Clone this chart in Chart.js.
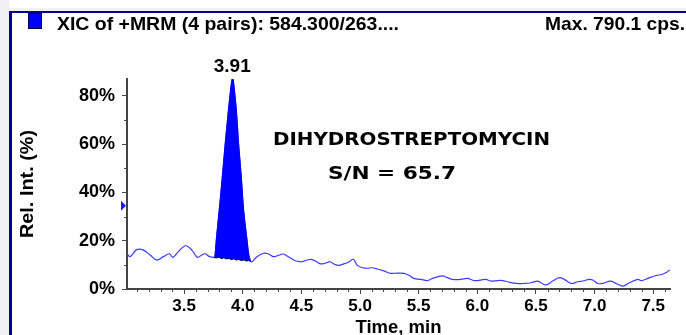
<!DOCTYPE html>
<html>
<head>
<meta charset="utf-8">
<script src="https://cdn.jsdelivr.net/npm/chart.js@4"></script>
<style>
  html, body { margin: 0; padding: 0; background: #ffffff; }
  canvas { display: block; }
</style>
</head>
<body>
<canvas id="c" width="686" height="335"></canvas>
<script>
// ---- data ----
const traceTime = [
  3.013, 3.040, 3.095, 3.150, 3.210, 3.267, 3.323, 3.375, 3.404, 3.451, 3.509, 3.551, 3.586, 3.614, 3.651, 3.680, 3.716, 3.751,
  3.762, 3.775, 3.790, 3.808, 3.831, 3.851, 3.870, 3.887, 3.902, 3.913, 3.922, 3.945, 3.964, 3.987, 4.007, 4.036, 4.050, 4.066,
  4.079, 4.121, 4.178, 4.221, 4.258, 4.292, 4.344, 4.378, 4.435, 4.463, 4.506, 4.549, 4.583, 4.620, 4.663, 4.705, 4.742, 4.776,
  4.819, 4.862, 4.904, 4.942, 4.976, 5.019, 5.062, 5.104, 5.147, 5.204, 5.261, 5.318, 5.375, 5.417, 5.460, 5.517, 5.575, 5.617,
  5.703, 5.746, 5.788, 5.859, 5.916, 5.973, 6.030, 6.073, 6.116, 6.173, 6.216, 6.258, 6.329, 6.400, 6.458, 6.515, 6.543, 6.586,
  6.643, 6.699, 6.742, 6.800, 6.857, 6.899, 6.956, 6.985, 7.028, 7.070, 7.135, 7.184, 7.241, 7.298, 7.370, 7.398, 7.455, 7.512,
  7.584, 7.612, 7.640
];
const traceIntensity = [
  14.6, 13.4, 16.3, 16.2, 14.1, 12.0, 13.4, 14.6, 13.1, 15.5, 17.9, 16.9, 14.8, 13.1, 14.1, 14.6, 13.4, 13.1,
  13.0, 20.5, 28.0, 36.9, 49.3, 60.4, 70.0, 78.3, 84.6, 87.6, 85.3, 74.2, 60.4, 46.6, 32.7, 20.3, 14.5, 11.5,
  11.3, 13.4, 14.8, 14.5, 13.4, 13.7, 14.5, 13.7, 12.0, 11.5, 11.3, 12.0, 12.3, 11.6, 10.4, 10.7, 11.3, 10.4,
  9.8, 10.4, 11.2, 12.3, 9.9, 8.8, 8.6, 8.8, 8.3, 7.5, 6.5, 6.6, 6.5, 5.7, 4.4, 4.0, 3.5, 4.4,
  5.4, 4.7, 4.0, 4.0, 4.4, 3.5, 3.7, 4.0, 3.3, 3.5, 3.5, 3.0, 2.3, 2.3, 2.6, 3.3, 2.6, 1.7,
  3.3, 4.7, 4.0, 2.3, 3.0, 3.3, 4.0, 3.7, 2.3, 2.3, 3.3, 2.3, 1.2, 2.6, 4.0, 3.5, 4.4, 5.4,
  6.2, 6.8, 7.9
];
const peakWindow = [3.762, 4.066];          // integrated region (min)
const baselineIntensity = [13.0, 11.5];     // integration baseline at the window ends (%)
const peakApexTime = 3.91;
const thresholdMarker = 34.5;               // blue marker on the y axis (%)
const xTickValues = [3.5, 4.0, 4.5, 5.0, 5.5, 6.0, 6.5, 7.0, 7.5];
const yTickValues = [0, 20, 40, 60, 80];
const xMinorTicks = [3.1,3.2,3.3,3.4,3.6,3.7,3.8,3.9,4.1,4.2,4.3,4.4,4.6,4.7,4.8,4.9,5.1,5.2,5.3,5.4,5.6,5.7,5.8,5.9,6.1,6.2,6.3,6.4,6.6,6.7,6.8,6.9,7.1,7.2,7.3,7.4,7.6];
const yMinorTicks = [10, 30, 50, 70];
const titleText = 'XIC of +MRM (4 pairs): 584.300/263....';
const maxText = 'Max. 790.1 cps.';
const compoundText = 'DIHYDROSTREPTOMYCIN';
const snText = 'S/N = 65.7';
const xTitle = 'Time, min';
const yTitle = 'Rel. Int. (%)';

// ---- build datasets ----
const tracePts = traceTime.map((t, i) => ({ x: t, y: traceIntensity[i] }));
const peakPts = tracePts.filter(p => p.x >= peakWindow[0] && p.x <= peakWindow[1]);
const basePts = peakWindow.map((t, i) => ({ x: t, y: baselineIntensity[i] }));

const SANS = '"Liberation Sans", Arial, sans-serif';
const VERD = '"DejaVu Sans", Verdana, sans-serif';

function drawText(ctx, text, x, y, font, align, targetW) {
  ctx.save();
  ctx.font = font;
  ctx.textBaseline = 'alphabetic';
  ctx.textAlign = 'left';
  const w = ctx.measureText(text).width;
  const sx = targetW ? targetW / w : 1;
  const realW = w * sx;
  let x0 = x;
  if (align === 'center') x0 = x - realW / 2;
  else if (align === 'right') x0 = x - realW;
  ctx.translate(x0, y);
  ctx.scale(sx, 1);
  ctx.fillStyle = '#000';
  ctx.fillText(text, 0, 0);
  ctx.restore();
}

const decor = {
  id: 'decor',
  beforeDraw(chart) {
    const ctx = chart.ctx;
    ctx.save();
    ctx.fillStyle = '#ffffff';
    ctx.fillRect(0, 0, chart.width, chart.height);
    ctx.fillStyle = '#f1f1f4';
    ctx.fillRect(0, 0, 9, chart.height);
    ctx.fillRect(0, 8, chart.width, 3);
    // frame
    ctx.fillStyle = '#000088';
    ctx.fillRect(9, 11, chart.width - 9, 2);
    ctx.fillRect(9, 11, 3, chart.height - 11);
    ctx.restore();
  },
  afterDraw(chart) {
    const ctx = chart.ctx;
    const xs = chart.scales.x, ys = chart.scales.y;
    const area = chart.chartArea;
    ctx.save();
    // minor ticks
    ctx.strokeStyle = '#444';
    ctx.lineWidth = 1;
    ctx.beginPath();
    xMinorTicks.forEach(v => {
      const px = Math.round(xs.getPixelForValue(v)) + 0.5;
      ctx.moveTo(px, area.bottom);
      ctx.lineTo(px, area.bottom + 3);
    });
    yMinorTicks.forEach(v => {
      const py = Math.round(ys.getPixelForValue(v)) + 0.5;
      ctx.moveTo(area.left, py);
      ctx.lineTo(area.left - 3, py);
    });
    ctx.stroke();
    // threshold marker
    const my = ys.getPixelForValue(thresholdMarker);
    ctx.fillStyle = '#1a1aff';
    ctx.beginPath();
    ctx.moveTo(area.left - 6, my - 5);
    ctx.lineTo(area.left - 1, my);
    ctx.lineTo(area.left - 6, my + 5);
    ctx.closePath();
    ctx.fill();
    // legend square
    ctx.fillStyle = '#0000ff';
    ctx.fillRect(28, 13, 14, 16);
    ctx.strokeStyle = '#000040';
    ctx.lineWidth = 1;
    ctx.strokeRect(28.5, 13.5, 13, 15);
    ctx.restore();

    // header texts
    drawText(ctx, titleText, 57, 30, 'bold 19px ' + SANS, 'left', 342);
    drawText(ctx, maxText, 685, 30, 'bold 19px ' + SANS, 'right', 140);
    // apex label
    const apx = xs.getPixelForValue(peakApexTime);
    drawText(ctx, peakApexTime.toFixed(2), apx, 72, 'bold 18px ' + SANS, 'center', 37);
    // compound annotations
    drawText(ctx, compoundText, 273, 145, 'bold 17px ' + VERD, 'left', 277);
    drawText(ctx, snText, 328, 179, 'bold 17px ' + VERD, 'left', 128);
    // axis titles
    drawText(ctx, xTitle, (area.left + area.right) / 2, 333, 'bold 18px ' + SANS, 'center', 86);
    ctx.save();
    ctx.translate(33, (area.top + area.bottom) / 2);
    ctx.rotate(-Math.PI / 2);
    drawText(ctx, yTitle, 0, 0, 'bold 19px ' + SANS, 'center', 108);
    ctx.restore();
  }
};

new Chart(document.getElementById('c'), {
  type: 'line',
  data: {
    datasets: [
      { label: 'trace', data: tracePts, borderColor: '#3b3bff', borderWidth: 1.2, tension: 0.35,
        pointRadius: 0, fill: false, order: 2 },
      { label: 'peak', data: peakPts, borderColor: '#0000ee', borderWidth: 1, tension: 0.2,
        backgroundColor: '#0000ff', pointRadius: 0, fill: 2, order: 1 },
      { label: 'baseline', data: basePts, borderColor: '#000000', borderWidth: 1, borderDash: [3, 2],
        pointRadius: 0, fill: false, order: 0 }
    ]
  },
  options: {
    responsive: false,
    animation: false,
    devicePixelRatio: 1,
    layout: { padding: { top: 79, right: 16, left: 0, bottom: 0 } },
    plugins: { legend: { display: false }, tooltip: { enabled: false }, title: { display: false } },
    scales: {
      x: {
        type: 'linear', min: 3.013, max: 7.643,
        afterBuildTicks: s => { s.ticks = xTickValues.map(v => ({ value: v })); },
        afterFit: s => { s.height = 46; },
        ticks: { callback: v => Number(v).toFixed(1), color: '#000', autoSkip: false, maxRotation: 0,
                 padding: 2, font: { family: SANS, size: 17, weight: 'bold' } },
        grid: { drawOnChartArea: false, drawTicks: true, tickLength: 5, tickColor: '#444', tickWidth: 1 },
        border: { display: true, color: '#444', width: 2 }
      },
      y: {
        type: 'linear', min: 0, max: 87,
        afterBuildTicks: s => { s.ticks = yTickValues.map(v => ({ value: v })); },
        afterFit: s => { s.width = 127; },
        ticks: { callback: v => v + '%', color: '#000', padding: 7,
                 font: { family: SANS, size: 18, weight: 'bold' } },
        grid: { drawOnChartArea: false, drawTicks: true, tickLength: 5, tickColor: '#444', tickWidth: 1 },
        border: { display: true, color: '#444', width: 2 }
      }
    }
  },
  plugins: [decor]
});
</script>
</body>
</html>
